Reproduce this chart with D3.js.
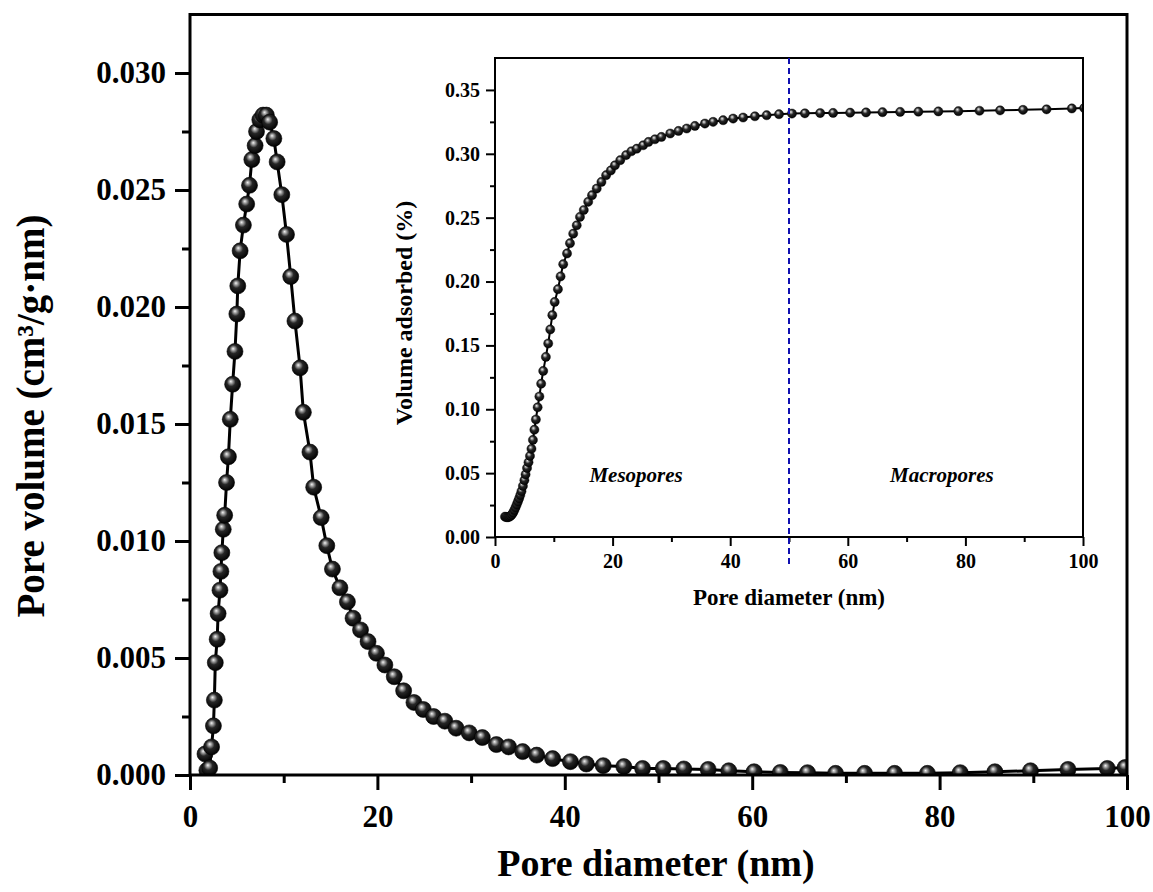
<!DOCTYPE html>
<html>
<head>
<meta charset="utf-8">
<script src="https://cdn.jsdelivr.net/npm/d3@7"></script>
<style>
  body { margin: 0; background: #fff; }
  svg { display: block; font-family: "Liberation Serif", "Times New Roman", serif; font-weight: bold; }
</style>
</head>
<body>
<div id="chart"></div>
<script>
// main curve: pore size distribution
const mainDiameter = [1.6, 1.8, 2.1, 2.3, 2.5, 2.6, 2.7, 2.9, 3.0, 3.2, 3.3, 3.4, 3.55, 3.7, 3.9, 4.1, 4.3, 4.55,
  4.8, 5.0, 5.1, 5.35, 5.7, 6.05, 6.35, 6.6, 6.95, 7.1, 7.45, 7.8, 8.15, 8.5, 8.95, 9.3, 9.8, 10.3, 10.75, 11.2,
  11.75, 12.1, 12.8, 13.2, 14.0, 14.6, 15.2, 16.0, 16.8, 17.4, 18.2, 19.0, 19.9, 20.8, 21.8, 22.8, 23.9, 24.9,
  26.0, 27.2, 28.4, 29.8, 31.2, 32.7, 34.0, 35.5, 37.0, 38.7, 40.6, 42.3, 44.1, 46.3, 48.3, 50.5, 52.7, 55.3,
  57.5, 60.2, 63.0, 65.9, 68.9, 72.0, 75.2, 78.7, 82.2, 85.9, 89.7, 93.7, 97.9, 99.8];
const mainVolume = [0.0009, 0.0002, 0.0003, 0.0012, 0.0021, 0.0032, 0.0048, 0.0058, 0.0069, 0.0079, 0.0087, 0.0095,
  0.0105, 0.0111, 0.0125, 0.0136, 0.0152, 0.0167, 0.0181, 0.0197, 0.0209, 0.0224, 0.0235, 0.0244, 0.0252, 0.0263,
  0.0269, 0.0275, 0.0280, 0.0282, 0.0282, 0.0279, 0.0272, 0.0262, 0.0248, 0.0231, 0.0213, 0.0194, 0.0174, 0.0155,
  0.0138, 0.0123, 0.0110, 0.0098, 0.0088, 0.0080, 0.0074, 0.0067, 0.0062, 0.0057, 0.0052, 0.0047, 0.0042, 0.0036,
  0.0031, 0.0028, 0.0025, 0.0023, 0.0020, 0.0018, 0.0016, 0.0013, 0.0012, 0.0010, 0.00085, 0.0007, 0.00057,
  0.00047, 0.0004, 0.00036, 0.00028, 0.00028, 0.00026, 0.00024, 0.00018, 0.00014, 0.00011, 0.0001, 0.00007,
  0.00007, 0.00007, 0.00007, 0.0001, 0.00014, 0.00018, 0.00024, 0.00028, 0.00032];

// inset curve: cumulative volume adsorbed
const insetDiameter = [1.7, 1.9, 2.1, 2.3, 2.5, 2.7, 2.9, 3.1, 3.3, 3.5, 3.7, 3.9, 4.1, 4.3, 4.5, 4.75, 5.0, 5.2,
  5.45, 5.7, 5.95, 6.2, 6.45, 6.7, 6.95, 7.25, 7.55, 7.85, 8.2, 8.65, 9.05, 9.4, 9.75, 10.15, 10.7, 11.15, 11.6,
  12.25, 12.75, 13.3, 13.9, 14.45, 15.1, 15.85, 16.5, 17.3, 18.1, 18.9, 19.7, 20.4, 21.3, 22.3, 23.2, 24.1, 25.2,
  26.1, 27.2, 28.3, 29.8, 31.2, 32.6, 34.0, 35.7, 37.1, 38.8, 40.5, 42.2, 44.2, 46.2, 48.3, 50.5, 52.7, 55.3,
  57.5, 60.4, 63.1, 65.9, 68.9, 72.0, 75.4, 78.8, 82.4, 85.9, 89.8, 93.8, 98.1, 100.2];
const insetVolume = [0.0159, 0.0156, 0.0155, 0.0156, 0.0160, 0.0167, 0.0178, 0.0192, 0.0212, 0.0232, 0.0255,
  0.0278, 0.0302, 0.0328, 0.0358, 0.0400, 0.0445, 0.0490, 0.0540, 0.0585, 0.0635, 0.0690, 0.0760, 0.0840, 0.0920,
  0.1015, 0.1100, 0.1200, 0.1300, 0.1410, 0.1515, 0.1625, 0.1737, 0.1840, 0.1940, 0.2040, 0.2136, 0.2220, 0.2300,
  0.2375, 0.2440, 0.2506, 0.2560, 0.2624, 0.2676, 0.2728, 0.2780, 0.2833, 0.2870, 0.2910, 0.2950, 0.2990, 0.3020,
  0.3040, 0.3067, 0.3093, 0.3114, 0.3132, 0.3159, 0.3179, 0.3198, 0.3218, 0.3237, 0.3250, 0.3263, 0.3276, 0.3284,
  0.3294, 0.3302, 0.3310, 0.3315, 0.3317, 0.3319, 0.3320, 0.3322, 0.3324, 0.3326, 0.3328, 0.3330, 0.3332, 0.3334,
  0.3337, 0.3340, 0.3344, 0.3348, 0.3355, 0.3358];

const mainXTicks = [0, 20, 40, 60, 80, 100];
const mainXMinor = [10, 30, 50, 70, 90];
const mainYTicks = [0, 0.005, 0.01, 0.015, 0.02, 0.025, 0.03];
const mainYMinor = [0.0025, 0.0075, 0.0125, 0.0175, 0.0225, 0.0275];
const insetXTicks = [0, 20, 40, 60, 80, 100];
const insetXMinor = [10, 30, 50, 70, 90];
const insetYTicks = [0, 0.05, 0.1, 0.15, 0.2, 0.25, 0.3, 0.35];
const insetYMinor = [0.025, 0.075, 0.125, 0.175, 0.225, 0.275, 0.325];
const poreLabels = ["Mesopores", "Macropores"];
const poreLabelX = [24, 76];
const poreBoundary = 50;

const W = 1153, H = 892;
const svg = d3.select("#chart").append("svg").attr("width", W).attr("height", H);

// shaded sphere marker
const defs = svg.append("defs");
const grad = defs.append("radialGradient").attr("id", "ball")
  .attr("cx", "45%").attr("cy", "42%").attr("r", "60%").attr("fx", "38%").attr("fy", "32%");
grad.append("stop").attr("offset", "0%").attr("stop-color", "#f4f4f4");
grad.append("stop").attr("offset", "18%").attr("stop-color", "#a0a0a0");
grad.append("stop").attr("offset", "45%").attr("stop-color", "#262626");
grad.append("stop").attr("offset", "100%").attr("stop-color", "#000");

// ---------- main plot ----------
const x = d3.scaleLinear().domain([0, 100]).range([190, 1127]);
const y = d3.scaleLinear().domain([0, 0.0325]).range([775, 14.5]);

defs.append("clipPath").attr("id", "mainClip").append("rect")
  .attr("x", x(0)).attr("y", y(0.0325)).attr("width", x(100) - x(0)).attr("height", y(0) - y(0.0325));

const mainData = mainDiameter.map((d, i) => ({ x: d, y: mainVolume[i] }));

const plot = svg.append("g").attr("clip-path", "url(#mainClip)");
plot.append("path").datum(mainData)
  .attr("fill", "none").attr("stroke", "#000").attr("stroke-width", 3)
  .attr("d", d3.line().x(d => x(d.x)).y(d => y(d.y)));
plot.selectAll("circle").data(mainData).join("circle")
  .attr("cx", d => x(d.x)).attr("cy", d => y(d.y)).attr("r", 8)
  .attr("fill", "url(#ball)").attr("stroke", "#000").attr("stroke-width", 0.6);

const styleAxis = (g, width, size) => {
  g.select(".domain").remove();
  g.selectAll("line").attr("stroke", "#000").attr("stroke-width", width);
  g.selectAll("text").attr("fill", "#000").style("font-size", size + "px")
    .style("font-family", "'Liberation Serif', 'Times New Roman', serif").style("font-weight", "bold");
};

svg.append("g").attr("transform", `translate(0,${y(0)})`)
  .call(d3.axisBottom(x).tickValues(mainXTicks).tickSize(15).tickPadding(15).tickFormat(d3.format("d")))
  .call(g => styleAxis(g, 3, 31));
svg.append("g").attr("transform", `translate(0,${y(0)})`)
  .call(d3.axisBottom(x).tickValues(mainXMinor).tickSize(8).tickFormat(""))
  .call(g => styleAxis(g, 3, 31));
svg.append("g").attr("transform", `translate(${x(0)},0)`)
  .call(d3.axisLeft(y).tickValues(mainYTicks).tickSize(15).tickPadding(9).tickFormat(d3.format(".3f")))
  .call(g => styleAxis(g, 3, 31));
svg.append("g").attr("transform", `translate(${x(0)},0)`)
  .call(d3.axisLeft(y).tickValues(mainYMinor).tickSize(8).tickFormat(""))
  .call(g => styleAxis(g, 3, 31));

svg.append("rect")
  .attr("x", x(0)).attr("y", y(0.0325)).attr("width", x(100) - x(0)).attr("height", y(0) - y(0.0325))
  .attr("fill", "none").attr("stroke", "#000").attr("stroke-width", 3);

svg.append("text").attr("x", 656).attr("y", 876).attr("text-anchor", "middle")
  .style("font-size", "38px").text("Pore diameter (nm)");
svg.append("text").attr("transform", "translate(44,416) rotate(-90)").attr("text-anchor", "middle")
  .style("font-size", "39px").text("Pore volume (cm³/g·nm)");

// ---------- inset ----------
const ix = d3.scaleLinear().domain([0, 100]).range([495, 1083]);
const iy = d3.scaleLinear().domain([0, 0.375]).range([537, 58]);

svg.append("rect")
  .attr("x", ix(0)).attr("y", iy(0.375)).attr("width", ix(100) - ix(0)).attr("height", iy(0) - iy(0.375))
  .attr("fill", "#fff");

defs.append("clipPath").attr("id", "insetClip").append("rect")
  .attr("x", ix(0)).attr("y", iy(0.375)).attr("width", ix(100) - ix(0)).attr("height", iy(0) - iy(0.375));

const insetData = insetDiameter.map((d, i) => ({ x: d, y: insetVolume[i] }));

const inset = svg.append("g").attr("clip-path", "url(#insetClip)");
inset.append("path").datum(insetData)
  .attr("fill", "none").attr("stroke", "#000").attr("stroke-width", 2)
  .attr("d", d3.line().x(d => ix(d.x)).y(d => iy(d.y)));
inset.selectAll("circle").data(insetData).join("circle")
  .attr("cx", d => ix(d.x)).attr("cy", d => iy(d.y)).attr("r", 4.6)
  .attr("fill", "url(#ball)").attr("stroke", "#000").attr("stroke-width", 0.4);

svg.append("g").attr("transform", `translate(0,${iy(0)})`)
  .call(d3.axisBottom(ix).tickValues(insetXTicks).tickSize(9).tickPadding(8).tickFormat(d3.format("d")))
  .call(g => styleAxis(g, 2, 20));
svg.append("g").attr("transform", `translate(0,${iy(0)})`)
  .call(d3.axisBottom(ix).tickValues(insetXMinor).tickSize(5).tickFormat(""))
  .call(g => styleAxis(g, 2, 20));
svg.append("g").attr("transform", `translate(${ix(0)},0)`)
  .call(d3.axisLeft(iy).tickValues(insetYTicks).tickSize(9).tickPadding(6).tickFormat(d3.format(".2f")))
  .call(g => styleAxis(g, 2, 20));
svg.append("g").attr("transform", `translate(${ix(0)},0)`)
  .call(d3.axisLeft(iy).tickValues(insetYMinor).tickSize(5).tickFormat(""))
  .call(g => styleAxis(g, 2, 20));

svg.append("rect")
  .attr("x", ix(0)).attr("y", iy(0.375)).attr("width", ix(100) - ix(0)).attr("height", iy(0) - iy(0.375))
  .attr("fill", "none").attr("stroke", "#000").attr("stroke-width", 2);

// mesopore / macropore boundary
svg.append("line")
  .attr("x1", ix(poreBoundary)).attr("x2", ix(poreBoundary))
  .attr("y1", iy(0.375)).attr("y2", iy(-0.022))
  .attr("stroke", "#1010b0").attr("stroke-width", 2).attr("stroke-dasharray", "6,4");

svg.selectAll(".pore-label").data(poreLabels).join("text")
  .attr("class", "pore-label")
  .attr("x", (d, i) => ix(poreLabelX[i])).attr("y", iy(0.043))
  .attr("text-anchor", "middle").style("font-size", "21px").style("font-style", "italic")
  .text(d => d);

svg.append("text").attr("x", (ix(0) + ix(100)) / 2).attr("y", 605).attr("text-anchor", "middle")
  .style("font-size", "23px").text("Pore diameter (nm)");
svg.append("text").attr("transform", "translate(412,313) rotate(-90)").attr("text-anchor", "middle")
  .style("font-size", "24px").text("Volume adsorbed (%)");
</script>
</body>
</html>
